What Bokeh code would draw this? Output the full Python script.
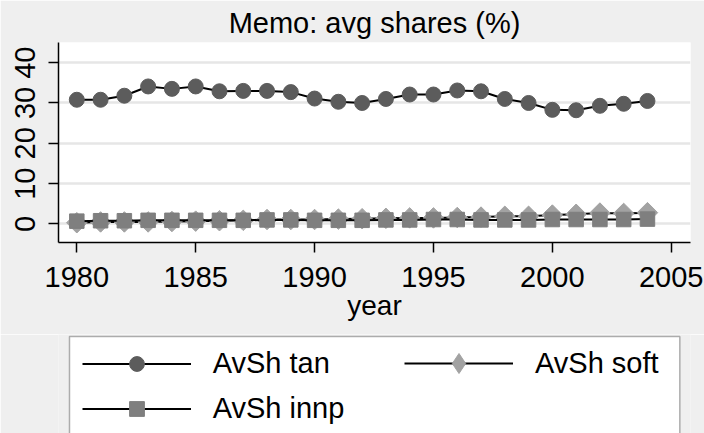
import math
from bokeh.plotting import figure
from bokeh.layouts import column
from bokeh.models import Range1d, FixedTicker, Legend, LegendItem, ColumnDataSource, BoxAnnotation
from bokeh.embed import file_html
from bokeh.resources import INLINE

years = list(range(1980, 2005))
avsh_tan = [30.8, 30.8, 31.8, 34.1, 33.5, 34.1, 32.9, 33.0, 33.0, 32.7, 31.1, 30.3, 30.0,
            31.0, 32.1, 32.1, 33.1, 32.9, 31.0, 30.0, 28.3, 28.2, 29.3, 29.8, 30.5]
avsh_soft = [0.3, 0.5, 0.5, 0.5, 0.6, 0.7, 0.8, 0.9, 1.1, 1.1, 1.1, 1.2, 1.3,
             1.4, 1.5, 1.5, 1.6, 1.7, 1.9, 1.9, 2.2, 2.4, 2.7, 2.6, 2.8]
avsh_innp = [0.7, 0.8, 0.8, 0.9, 0.9, 0.9, 0.9, 0.9, 1.0, 1.0, 0.9, 0.9, 0.9,
             1.0, 1.0, 1.1, 1.1, 1.0, 1.0, 1.0, 1.1, 1.1, 1.1, 1.1, 1.2]
x_ticks = [1980, 1985, 1990, 1995, 2000, 2005]
y_ticks = [0, 10, 20, 30, 40]
labels = ["AvSh tan", "AvSh soft", "AvSh innp"]

FONT = "Liberation Sans"
BG = "#efefef"
C_TAN, C_SOFT, C_INNP = "#5c5c5c", "#a2a2a2", "#7f7f7f"
W, H_MAIN, H_LEG = 704, 334, 99
LEFT, RIGHT = 58, 14

src = ColumnDataSource(dict(year=years, tan=avsh_tan, soft=avsh_soft, innp=avsh_innp))

# ---------------- main chart ----------------
p = figure(width=W, height=H_MAIN, output_backend="svg", toolbar_location=None,
           x_range=Range1d(1979.23, 2005.81), y_range=Range1d(-4.6, 45.0),
           title="Memo: avg shares (%)")
p.background_fill_color = "white"
p.border_fill_color = BG
p.outline_line_color = None
p.min_border_left = LEFT
p.min_border_right = RIGHT
p.min_border_top = 10
p.min_border_bottom = 92

p.title.text_font = FONT
p.title.text_font_size = "29px"
p.title.text_font_style = "normal"
p.title.align = "center"
p.title.text_color = "black"
p.title.standoff = 8

for ax in (p.xaxis[0], p.yaxis[0]):
    ax.axis_line_color = "black"
    ax.axis_line_width = 1.5
    ax.major_tick_line_color = "black"
    ax.major_tick_line_width = 1.5
    ax.major_tick_out = 10
    ax.major_tick_in = 0
    ax.minor_tick_line_color = None
    ax.major_label_text_font = FONT
    ax.major_label_text_font_size = "29px"
    ax.major_label_text_color = "black"

p.xaxis[0].major_label_standoff = 14
p.yaxis[0].major_label_standoff = 13
p.xaxis[0].ticker = FixedTicker(ticks=x_ticks)
p.yaxis[0].ticker = FixedTicker(ticks=y_ticks)
p.yaxis[0].major_label_orientation = "vertical"
p.xaxis[0].axis_label = "year"
p.xaxis[0].axis_label_text_font = FONT
p.xaxis[0].axis_label_text_font_size = "28px"
p.xaxis[0].axis_label_text_font_style = "normal"
p.xaxis[0].axis_label_text_color = "black"
p.xaxis[0].axis_label_standoff = 0

p.xgrid.grid_line_color = None
p.ygrid.grid_line_color = "#e6e6e6"
p.ygrid.grid_line_width = 2.5
p.ygrid.ticker = FixedTicker(ticks=y_ticks)

p.line("year", "tan", source=src, line_color="black", line_width=2)
p.scatter("year", "tan", source=src, marker="circle", size=15,
          fill_color=C_TAN, line_color=C_TAN)
p.line("year", "soft", source=src, line_color="black", line_width=2)
p.scatter("year", "soft", source=src, marker="square", size=14.5, angle=math.pi / 4,
          fill_color=C_SOFT, line_color=C_SOFT)
p.line("year", "innp", source=src, line_color="black", line_width=2)
p.scatter("year", "innp", source=src, marker="square", size=14.5,
          fill_color=C_INNP, line_color=C_INNP)

# ---------------- legend strip (frame aligned with the chart's frame) ----------------
q = figure(width=W, height=H_LEG, output_backend="svg", toolbar_location=None,
           x_range=Range1d(LEFT, W - RIGHT), y_range=Range1d(H_LEG, 0),
           x_axis_location=None, y_axis_location=None)
q.grid.visible = False
q.background_fill_color = BG
q.border_fill_color = BG
q.outline_line_color = None
q.min_border_left = LEFT
q.min_border_right = RIGHT
q.min_border_top = 0
q.min_border_bottom = 0

q.add_layout(BoxAnnotation(left=69, right=679.3, top=2, bottom=H_LEG + 50,
                           fill_color="white", fill_alpha=1.0,
                           line_color="black", line_width=1.5))

# legend proxies, placed outside the visible ranges
far = dict(x=[-5000], y=[-5000])
ql1 = q.line(x=far["x"], y=far["y"], line_color="black", line_width=2.2)
qs1 = q.scatter(x=far["x"], y=far["y"], marker="circle", fill_color=C_TAN, line_color=C_TAN)
ql2 = q.line(x=far["x"], y=far["y"], line_color="black", line_width=2.2)
qs2 = q.scatter(x=far["x"], y=far["y"], marker="diamond", fill_color=C_SOFT, line_color=C_SOFT)
ql3 = q.line(x=far["x"], y=far["y"], line_color="black", line_width=2.2)
qs3 = q.scatter(x=far["x"], y=far["y"], marker="square", fill_color=C_INNP, line_color=C_INNP)


def style(lg, glyph_h, spacing):
    lg.label_text_font = FONT
    lg.label_text_font_size = "29px"
    lg.label_text_color = "black"
    lg.glyph_width = 109
    lg.glyph_height = glyph_h
    lg.label_height = 30
    lg.label_standoff = 22
    lg.padding = 0
    lg.spacing = spacing
    lg.margin = 0
    lg.border_line_color = None
    lg.background_fill_alpha = 0.0


leg_a = Legend(items=[LegendItem(label=labels[0], renderers=[ql1, qs1]),
                      LegendItem(label=labels[2], renderers=[ql3, qs3])],
               orientation="vertical", location=(81.7 - LEFT, 6.2))
leg_b = Legend(items=[LegendItem(label=labels[1], renderers=[ql2, qs2])],
               orientation="vertical", location=(404 - LEFT, 44.7))
style(leg_a, 37, 8)
style(leg_b, 50, 0)
q.add_layout(leg_a, "center")
q.add_layout(leg_b, "center")

layout = column(p, q, spacing=0)
open("out.html", "w").write(file_html(layout, INLINE))
